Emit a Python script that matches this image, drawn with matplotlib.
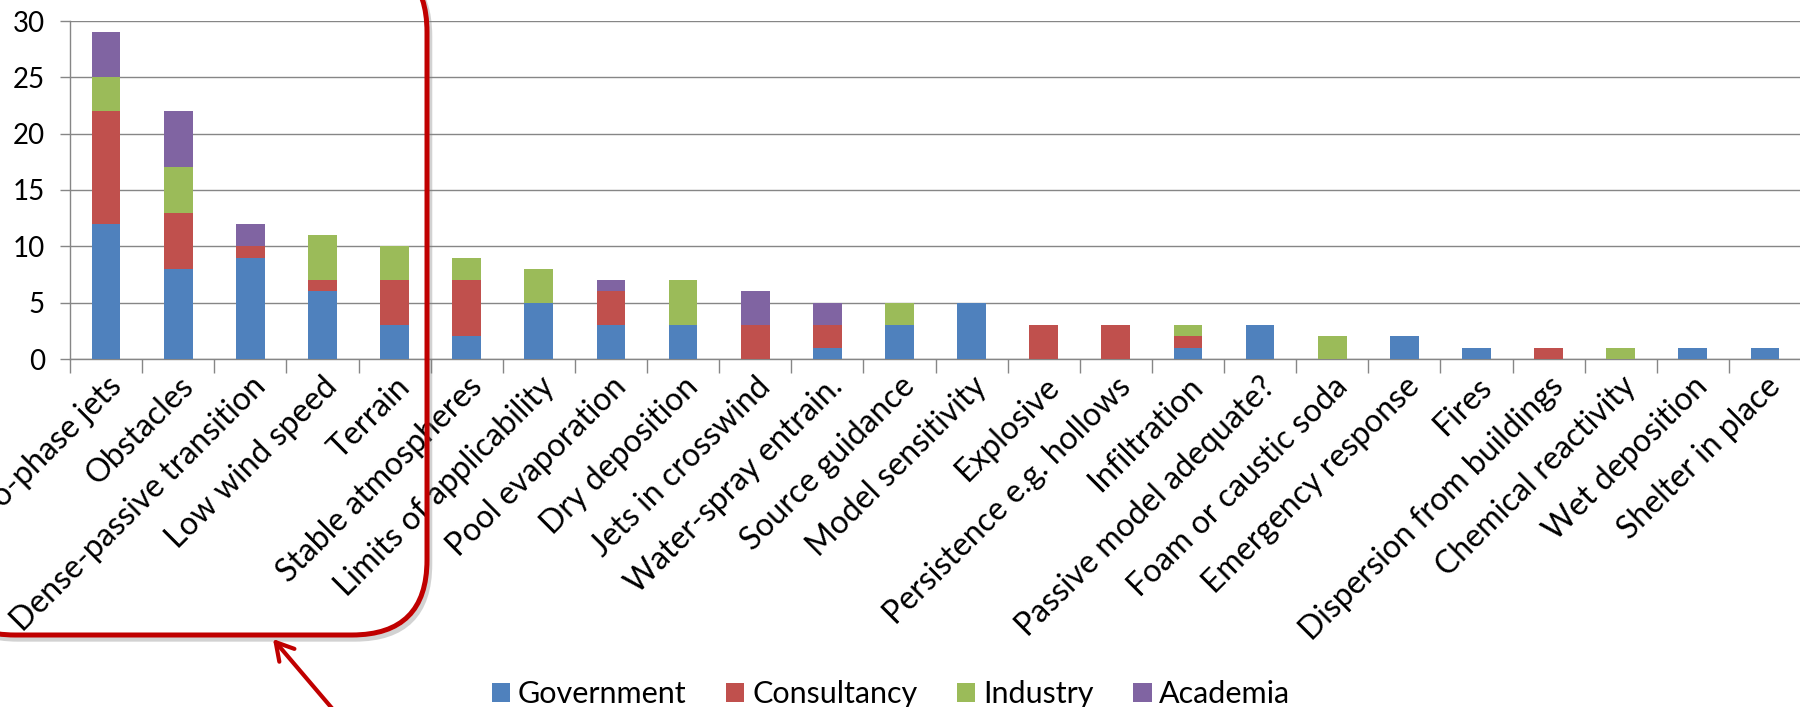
import matplotlib
matplotlib.use("Agg")
import matplotlib.pyplot as plt
from matplotlib.patches import FancyBboxPatch, FancyArrowPatch, Patch
from matplotlib.transforms import Affine2D
import matplotlib.patheffects as pe
import numpy as np

plt.rcParams['font.family'] = ['Lato', 'DejaVu Sans']

categories = [
    "Two-phase jets", "Obstacles", "Dense-passive transition", "Low wind speed",
    "Terrain", "Stable atmospheres", "Limits of applicability", "Pool evaporation",
    "Dry deposition", "Jets in crosswind", "Water-spray entrain.", "Source guidance",
    "Model sensitivity", "Explosive", "Persistence e.g. hollows", "Infiltration",
    "Passive model adequate?", "Foam or caustic soda", "Emergency response", "Fires",
    "Dispersion from buildings", "Chemical reactivity", "Wet deposition", "Shelter in place",
]
government  = [12, 8, 9, 6, 3, 2, 5, 3, 3, 0, 1, 3, 5, 0, 0, 1, 3, 0, 2, 1, 0, 0, 1, 1]
consultancy = [10, 5, 1, 1, 4, 5, 0, 3, 0, 3, 2, 0, 0, 3, 3, 1, 0, 0, 0, 0, 1, 0, 0, 0]
industry    = [3, 4, 0, 4, 3, 2, 3, 0, 4, 0, 0, 2, 0, 0, 0, 1, 0, 2, 0, 0, 0, 1, 0, 0]
academia    = [4, 5, 2, 0, 0, 0, 0, 1, 0, 3, 2, 0, 0, 0, 0, 0, 0, 0, 0, 0, 0, 0, 0, 0]

series = [
    ("Government", government, "#4F81BD"),
    ("Consultancy", consultancy, "#C0504D"),
    ("Industry", industry, "#9BBB59"),
    ("Academia", academia, "#8064A2"),
]

W, H = 1800, 707
fig = plt.figure(figsize=(W / 100, H / 100), dpi=100)
ax = fig.add_axes([70 / W, 348 / H, 1731 / W, 338 / H])

x = np.arange(len(categories))
bottom = np.zeros(len(categories))
for name, vals, col in series:
    vals = np.array(vals, dtype=float)
    ax.bar(x, vals, width=0.4, bottom=bottom, color=col, zorder=3)
    bottom += vals

grey = "#868686"
ax.set_xlim(-0.5, len(categories) - 0.5)
ax.set_ylim(0, 30)
ax.set_yticks(range(0, 31, 5))
ax.yaxis.grid(True, color=grey, linewidth=1.0, zorder=0)
ax.set_axisbelow(True)
for s in ["top", "right"]:
    ax.spines[s].set_visible(False)
for s in ["left", "bottom"]:
    ax.spines[s].set_color(grey)
    ax.spines[s].set_linewidth(1.0)

ax.tick_params(axis="y", length=7, color=grey, width=1.0, pad=11, labelsize=20)
ax.set_xticks(x)
ax.set_xticklabels(categories, rotation=45, ha="right", rotation_mode="anchor", fontsize=23)
ax.tick_params(axis="x", which="major", length=0, pad=9)
ax.set_xticks(np.arange(-0.5, len(categories)), minor=True)
ax.tick_params(axis="x", which="minor", length=10, color=grey, width=1.0)

handles = [Patch(facecolor=c, label=n) for n, _, c in series]
fig.legend(handles=handles, loc="center", bbox_to_anchor=(891 / W, 13 / H),
           ncol=4, frameon=False, fontsize=22, handlelength=0.6, handleheight=0.6,
           handletextpad=0.25, columnspacing=1.3)

# red callout around the leading categories, in pixel coords with y pointing down
px = Affine2D().scale(1, -1).translate(0, H).scale(1 / W, 1 / H) + fig.transFigure
red = "#C00000"
box = FancyBboxPatch((-60, -43), 487, 678, boxstyle="round,pad=0,rounding_size=75",
                     transform=px, facecolor="none", edgecolor=red, linewidth=3.6, zorder=5)
box.set_path_effects([pe.SimpleLineShadow(offset=(2, -3), shadow_color="gray", alpha=0.35),
                      pe.Normal()])
fig.add_artist(box)

arrow = FancyArrowPatch(posA=(342, 720), posB=(273, 639), transform=px,
                        arrowstyle="->,head_length=0.4,head_width=0.23", mutation_scale=31,
                        color=red, linewidth=3.0, shrinkA=0, shrinkB=0, zorder=5)
fig.add_artist(arrow)

fig.savefig("out.png", dpi=100)
